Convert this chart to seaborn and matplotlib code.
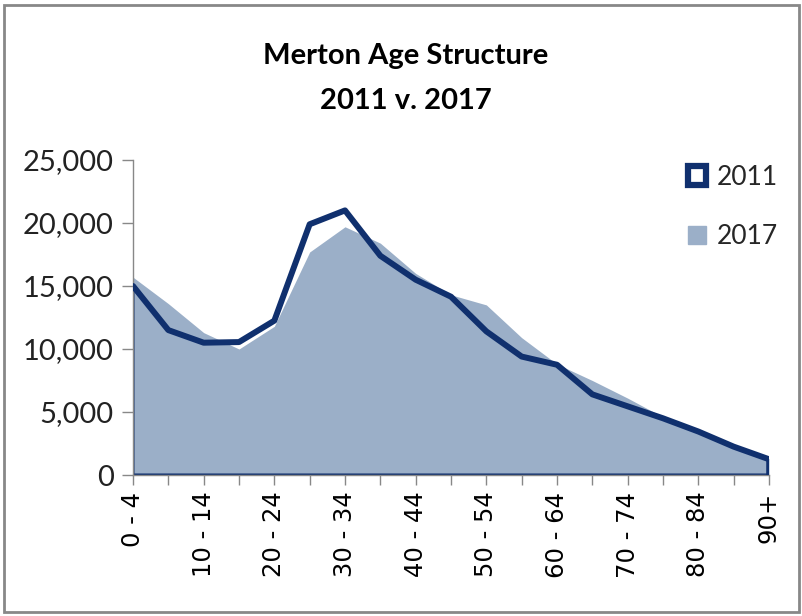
import matplotlib
matplotlib.use("Agg")
import matplotlib.pyplot as plt
import seaborn as sns
import numpy as np
import pandas as pd
from matplotlib.ticker import FuncFormatter
from matplotlib.patches import Patch, Rectangle

age_groups = ["0 - 4", "5 - 9", "10 - 14", "15 - 19", "20 - 24", "25 - 29", "30 - 34",
              "35 - 39", "40 - 44", "45 - 49", "50 - 54", "55 - 59", "60 - 64",
              "65 - 69", "70 - 74", "75 - 79", "80 - 84", "85 - 89", "90+"]
pop_2011 = [15000, 11500, 10500, 10550, 12250, 19900, 21000, 17400, 15500, 14150,
            11400, 9400, 8750, 6400, 5450, 4500, 3450, 2250, 1250]
pop_2017 = [15700, 13600, 11300, 10000, 11800, 17700, 19700, 18400, 16000, 14300,
            13500, 10900, 8800, 7500, 6100, 4600, 3550, 2250, 1300]
title_lines = ["Merton Age Structure", "2011 v. 2017"]
series_names = ["2011", "2017"]

navy = "#10306E"
fill_col = "#9BAFC8"

sns.set_theme(style="white")
plt.rcParams["font.family"] = ["Lato", "DejaVu Sans"]

df = pd.DataFrame({"pos": np.arange(len(age_groups)), "age": age_groups,
                   "p2011": pop_2011, "p2017": pop_2017})

fig = plt.figure(figsize=(8.03, 6.16), dpi=100)
ax = fig.add_axes([133 / 803, 1 - 475 / 616, (769 - 133) / 803, (475 - 160) / 616])

# 2017 area
ax.fill_between(df["pos"], 0, df["p2017"], color=fill_col, linewidth=0, zorder=1)
# 2011 area outline (no fill)
ax.fill_between(df["pos"], 0, df["p2011"], facecolor="none", edgecolor=navy,
                linewidth=2.2, zorder=2)
sns.lineplot(data=df, x="pos", y="p2011", ax=ax, color=navy, linewidth=4.3,
             zorder=3, legend=False)
ax.plot([df["pos"].iloc[-1]] * 2, [0, df["p2011"].iloc[-1]], color=navy, lw=4, zorder=3,
        solid_capstyle="butt")

ax.set_xlim(0, len(age_groups) - 1)
ax.set_ylim(0, 25000)
ax.set_xticks(df["pos"])
ax.set_xticklabels([a if i % 2 == 0 else "" for i, a in enumerate(age_groups)],
                   rotation=90, fontsize=17.5, family="DejaVu Sans", color="black")
ax.set_yticks(np.arange(0, 25001, 5000))
ax.yaxis.set_major_formatter(FuncFormatter(lambda v, p: f"{int(v):,}"))
ax.tick_params(axis="y", labelsize=21, length=8, width=1,
               direction="out", left=True, pad=6, color="#888888", labelcolor="#222222")
ax.tick_params(axis="x", length=7, width=1, direction="out", bottom=True, pad=5,
               color="#888888")
ax.set_xlabel("")
ax.set_ylabel("")
for s in ["top", "right"]:
    ax.spines[s].set_visible(False)
ax.spines["left"].set_color("#888888")
ax.spines["bottom"].set_color("#888888")
ax.spines["left"].set_linewidth(1)
ax.spines["bottom"].set_linewidth(1)

fig.text(0.505, 1 - 56 / 616, title_lines[0], ha="center", va="center",
         fontsize=21, fontweight="bold", color="black")
fig.text(0.505, 1 - 101 / 616, title_lines[1], ha="center", va="center",
         fontsize=21, fontweight="bold", color="black")

handles = [Patch(facecolor="white", edgecolor=navy, linewidth=4.5),
           Patch(facecolor=fill_col, edgecolor=fill_col)]
leg = fig.legend(handles, series_names, loc="upper left",
                 bbox_to_anchor=(664 / 803, 1 - 141 / 616), frameon=False,
                 fontsize=19, handlelength=0.7, handleheight=0.7, handletextpad=0.4,
                 labelspacing=1.3)

fig.patches.append(Rectangle((4 / 803, 4 / 616), 795 / 803, 607 / 616,
                             transform=fig.transFigure, fill=False,
                             edgecolor="#888888", linewidth=2))

fig.savefig("out.png", dpi=100, facecolor="white")
